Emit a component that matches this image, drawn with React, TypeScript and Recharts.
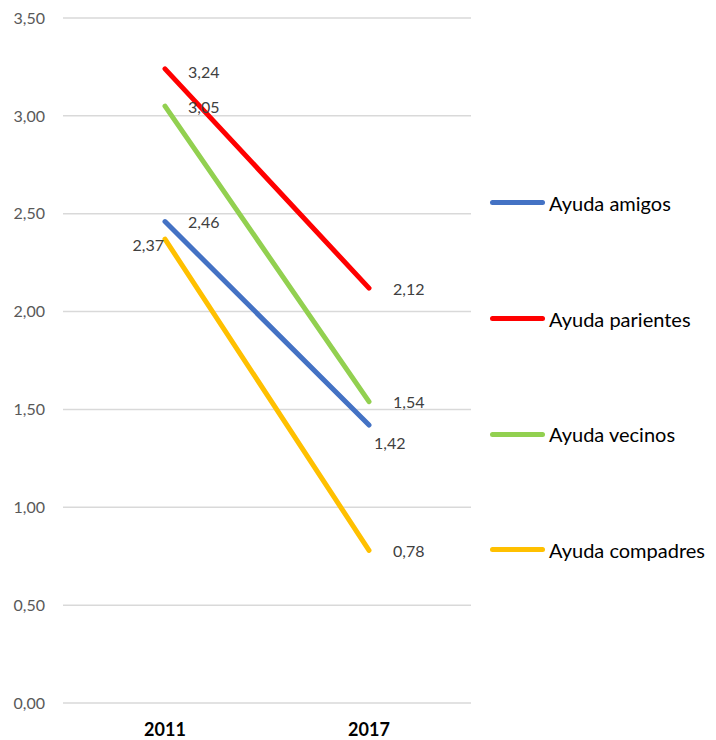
import { CartesianGrid, Line, LineChart, XAxis, YAxis } from 'recharts'

const years = ['2011', '2017']
const amigos = [2.46, 1.42]
const parientes = [3.24, 2.12]
const vecinos = [3.05, 1.54]
const compadres = [2.37, 0.78]
const yTicks = [0, 0.5, 1, 1.5, 2, 2.5, 3, 3.5]

const data = years.map((year, i) => ({
  year,
  amigos: amigos[i],
  parientes: parientes[i],
  vecinos: vecinos[i],
  compadres: compadres[i],
}))

const FONT = 'Lato, "Open Sans", sans-serif'
const fmt = (v: number) => v.toFixed(2).replace('.', ',')

// posición de cada etiqueta: [dx, dy, anchor] por punto
type Pos = [number, number, 'start' | 'end']
const labelAt = (pos: Pos[]) => (props: any) => {
  const { x, y, value, index } = props
  const [dx, dy, anchor] = pos[index] ?? [20, 0, 'start']
  return (
    <text
      key={`l-${index}`}
      x={x + dx}
      y={y + dy}
      textAnchor={anchor}
      dominantBaseline="central"
      fill="#404040"
      fontSize={16}
      fontFamily={FONT}
    >
      {fmt(Number(value))}
    </text>
  )
}

const series: { key: string; name: string; color: string; pos: Pos[] }[] = [
  { key: 'amigos', name: 'Ayuda amigos', color: '#4472C4', pos: [[23, 0, 'start'], [5, 17, 'start']] },
  { key: 'parientes', name: 'Ayuda parientes', color: '#FF0000', pos: [[23, 3, 'start'], [24, 0, 'start']] },
  { key: 'vecinos', name: 'Ayuda vecinos', color: '#92D050', pos: [[23, 0, 'start'], [24, 0, 'start']] },
  { key: 'compadres', name: 'Ayuda compadres', color: '#FFC000', pos: [[-1, 5, 'end'], [24, 0, 'start']] },
]

// leyenda a la derecha, una fila por serie
function SideLegend() {
  return (
    <div style={{ position: 'absolute', left: 490, top: 145, fontFamily: FONT, fontSize: 20, color: '#000' }}>
      {series.map((s) => (
        <div key={s.key} style={{ height: 115.7, display: 'flex', alignItems: 'center' }}>
          <span
            style={{
              display: 'inline-block',
              width: 55,
              height: 5,
              borderRadius: 3,
              background: s.color,
              marginRight: 4,
            }}
          />
          <span>{s.name}</span>
        </div>
      ))}
    </div>
  )
}

export default function App() {
  return (
    <div style={{ position: 'absolute', left: 0, top: 0, width: 716, height: 740, background: '#fff' }}>
      <LineChart width={716} height={740} data={data} margin={{ top: 18, right: 245, bottom: 7, left: 0 }}>
        <CartesianGrid stroke="#D9D9D9" strokeWidth={1.5} vertical={false} />
        <XAxis
          dataKey="year"
          scale="band"
          height={30}
          axisLine={false}
          tickLine={false}
          tickSize={0}
          tickMargin={20}
          tick={{ fill: '#000', fontSize: 18, fontWeight: 700, fontFamily: FONT }}
        />
        <YAxis
          domain={[0, 3.5]}
          ticks={yTicks}
          width={63}
          axisLine={false}
          tickLine={false}
          tickSize={0}
          tickMargin={18}
          tickFormatter={fmt}
          tick={{ fill: '#595959', fontSize: 16, fontFamily: FONT }}
        />
        {series.map((s) => (
          <Line
            key={s.key}
            dataKey={s.key}
            name={s.name}
            stroke={s.color}
            strokeWidth={5}
            strokeLinecap="round"
            dot={false}
            isAnimationActive={false}
            label={labelAt(s.pos)}
          />
        ))}
      </LineChart>
      <SideLegend />
    </div>
  )
}
